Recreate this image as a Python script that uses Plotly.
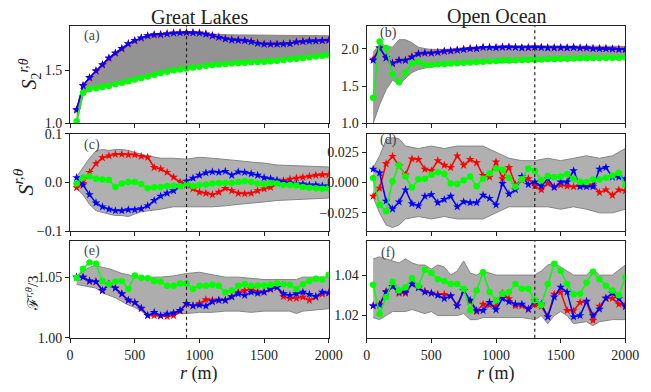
import plotly.graph_objects as go

R = [50, 100, 150, 200, 250, 300, 350, 400, 450, 500, 550, 600, 650, 700, 750, 800, 850, 900, 950, 1000,
     1050, 1100, 1150, 1200, 1250, 1300, 1350, 1400, 1450, 1500, 1550, 1600, 1650, 1700, 1750, 1800, 1850, 1900, 1950, 2000]

# ---- panel (a): S2 Great Lakes
a_red = [1.125, 1.355, 1.43, 1.495, 1.553, 1.615, 1.663, 1.706, 1.752, 1.782, 1.808, 1.828, 1.838, 1.842, 1.85, 1.857, 1.86, 1.862, 1.86, 1.857,
         1.848, 1.832, 1.817, 1.802, 1.792, 1.789, 1.785, 1.775, 1.76, 1.752, 1.752, 1.752, 1.754, 1.757, 1.772, 1.777, 1.782, 1.782, 1.785, 1.788]
a_blue = [1.13, 1.36, 1.435, 1.50, 1.557, 1.62, 1.667, 1.71, 1.755, 1.785, 1.81, 1.83, 1.84, 1.842, 1.848, 1.855, 1.857, 1.86, 1.858, 1.855,
          1.845, 1.83, 1.815, 1.80, 1.79, 1.787, 1.783, 1.773, 1.758, 1.75, 1.75, 1.75, 1.752, 1.755, 1.77, 1.775, 1.78, 1.78, 1.783, 1.786]
a_green = [1.02, 1.29, 1.325, 1.333, 1.345, 1.355, 1.37, 1.385, 1.40, 1.415, 1.43, 1.445, 1.46, 1.476, 1.49, 1.503, 1.51, 1.52, 1.53, 1.537,
           1.545, 1.553, 1.558, 1.563, 1.567, 1.571, 1.575, 1.578, 1.581, 1.584, 1.589, 1.594, 1.60, 1.607, 1.613, 1.62, 1.627, 1.634, 1.64, 1.645]
a_env_x = [50, 100, 150, 200, 300, 400, 500, 600, 700, 800, 900, 1000, 1100, 1200, 1300, 1400, 1500, 1600, 1700, 1800, 1900, 2000]
a_env_hi = [1.13, 1.36, 1.435, 1.50, 1.62, 1.71, 1.785, 1.83, 1.842, 1.855, 1.86, 1.855, 1.845, 1.84, 1.838, 1.836, 1.835, 1.835, 1.833, 1.832, 1.832, 1.83]
a_env_lo = [1.0, 1.27, 1.32, 1.33, 1.35, 1.38, 1.41, 1.44, 1.47, 1.50, 1.52, 1.535, 1.553, 1.563, 1.571, 1.578, 1.584, 1.594, 1.607, 1.62, 1.634, 1.645]

# ---- panel (b): S2 Open Ocean
b_red = [1.86, 2.01, 1.875, 1.81, 1.845, 1.845, 1.89, 1.932, 1.94, 1.942, 1.952, 1.965, 1.972, 1.982, 1.992, 2.0, 2.003, 2.018, 2.018, 2.015,
         2.02, 2.022, 2.018, 2.012, 2.015, 2.022, 2.017, 2.012, 2.012, 2.014, 2.012, 2.017, 2.01, 2.012, 2.003, 2.002, 2.002, 1.997, 1.993, 1.992]
b_blue = [1.843, 2.01, 1.878, 1.80, 1.843, 1.843, 1.887, 1.93, 1.94, 1.94, 1.95, 1.965, 1.97, 1.98, 1.99, 2.0, 2.0, 2.017, 2.017, 2.013,
          2.02, 2.02, 2.017, 2.01, 2.013, 2.02, 2.015, 2.01, 2.01, 2.012, 2.01, 2.015, 2.008, 2.01, 2.0, 2.0, 2.0, 1.995, 1.99, 1.99]
b_green = [1.343, 2.096, 2.01, 1.66, 1.55, 1.68, 1.80, 1.826, 1.785, 1.785, 1.79, 1.795, 1.80, 1.805, 1.81, 1.815, 1.82, 1.825, 1.83, 1.835,
           1.84, 1.842, 1.845, 1.848, 1.85, 1.853, 1.856, 1.86, 1.862, 1.865, 1.866, 1.868, 1.87, 1.872, 1.874, 1.875, 1.876, 1.878, 1.879, 1.88]
b_env_x = [50, 100, 150, 200, 250, 300, 350, 400, 450, 500, 600, 700, 800, 900, 1000, 1200, 1400, 1600, 1800, 2000]
b_env_hi = [1.95, 2.06, 2.03, 2.02, 2.12, 2.12, 2.08, 2.02, 2.0, 1.99, 1.99, 2.0, 2.02, 2.03, 2.035, 2.04, 2.04, 2.04, 2.03, 2.03]
b_env_lo = [1.0, 1.25, 1.45, 1.58, 1.52, 1.6, 1.68, 1.72, 1.74, 1.76, 1.78, 1.79, 1.80, 1.81, 1.82, 1.83, 1.84, 1.85, 1.86, 1.87]

# ---- panel (c): S Great Lakes
c_red = [-0.0106, -0.002, 0.021, 0.039, 0.051, 0.055, 0.058, 0.058, 0.057, 0.057, 0.054, 0.052, 0.031, 0.028, 0.021, 0.011, 0.001, -0.005, -0.013, -0.02,
         -0.022, -0.025, -0.02, -0.012, -0.017, -0.022, -0.023, -0.022, -0.017, -0.013, -0.01, -0.001, 0.004, 0.007, 0.009, 0.011, 0.013, 0.015, 0.016, 0.016]
c_blue = [0.01, -0.005, -0.025, -0.042, -0.05, -0.055, -0.058, -0.058, -0.056, -0.056, -0.054, -0.048, -0.037, -0.028, -0.022, -0.017, -0.007, 0.003, 0.009, 0.015,
          0.02, 0.022, 0.021, 0.023, 0.015, 0.022, 0.021, 0.018, 0.015, 0.01, 0.008, 0.005, 0.001, -0.001, -0.003, -0.003, -0.005, -0.005, -0.007, -0.007]
c_green = [-0.002, 0.01, 0.013, 0.008, 0.006, 0.005, -0.009, -0.002, 0.001, 0.001, -0.003, -0.012, -0.01, -0.009, -0.007, -0.007, -0.007, -0.004, -0.007, -0.005,
           -0.004, -0.002, -0.001, -0.001, -0.001, 0.001, 0.003, 0.001, -0.002, -0.003, -0.001, -0.002, -0.005, -0.005, -0.006, -0.009, -0.011, -0.012, -0.013, -0.012]
c_env_x = [50, 100, 150, 200, 250, 300, 350, 400, 450, 500, 550, 600, 700, 800, 900, 1000, 1100, 1200, 1300, 1400, 1500, 1600, 1700, 1800, 1900, 2000]
c_env_hi = [0.012, 0.03, 0.05, 0.065, 0.068, 0.066, 0.068, 0.068, 0.066, 0.062, 0.058, 0.055, 0.05, 0.05, 0.048, 0.052, 0.05, 0.048, 0.045, 0.042, 0.04, 0.036, 0.035, 0.035, 0.033, 0.032]
c_env_lo = [-0.012, -0.025, -0.045, -0.058, -0.062, -0.065, -0.068, -0.068, -0.07, -0.065, -0.06, -0.058, -0.055, -0.05, -0.05, -0.05, -0.05, -0.048, -0.045, -0.042, -0.04, -0.037, -0.035, -0.035, -0.033, -0.032]

# ---- panel (d): S Open Ocean
d_red = [-0.0113, -0.0047, 0.0155, 0.0216, 0.0137, 0.0063, 0.0195, 0.019, 0.011, 0.0097, 0.018, 0.0142, 0.0124, 0.022, 0.0142, 0.019, 0.0163, 0.0058, 0.0045, 0.017,
         0.0032, 0.0124, -0.0016, 0.0018, 0.0032, -0.003, -0.006, -0.0008, -0.0034, -0.002, -0.003, -0.0034, -0.0026, -0.0016, -0.002, -0.0082, -0.006, -0.0105, -0.006, -0.0068]
d_blue = [0.011, 0.0079, -0.0153, -0.0218, -0.016, -0.006, -0.0174, -0.0192, -0.0113, -0.010, -0.0166, -0.014, -0.0113, -0.020, -0.0158, -0.0166, -0.0166, -0.0105, -0.013, -0.0184,
          -0.0008, -0.0095, -0.006, 0.005, -0.0016, 0.0005, -0.003, 0.0032, -0.0042, 0.0005, 0.0005, 0.0097, -0.0034, -0.0034, -0.0034, 0.011, 0.0124, 0.0045, 0.0045, 0.003]
d_green = [0.0037, -0.0184, -0.0237, 0.001, 0.0142, 0.005, -0.0042, 0.0026, 0.0032, 0.0063, 0.0084, 0.0071, -0.0008, -0.0013, 0.0018, 0.005, -0.003, 0.0032, 0.0076, 0.0116,
           0.0105, 0.0037, -0.0034, 0.0026, 0.0116, 0.0097, 0.0018, 0.0053, 0.0045, 0.005, 0.0071, 0.0032, 0.0005, 0.0005, 0.0024, 0.0024, 0.004, 0.0058, 0.008, -0.002]
d_env_x = [50, 100, 150, 200, 250, 300, 400, 500, 600, 700, 800, 900, 1000, 1100, 1200, 1300, 1400, 1500, 1600, 1700, 1800, 1900, 2000]
d_env_hi = [0.012, 0.022, 0.035, 0.037, 0.036, 0.03, 0.028, 0.03, 0.028, 0.03, 0.03, 0.03, 0.025, 0.02, 0.018, 0.018, 0.02, 0.018, 0.02, 0.022, 0.02, 0.022, 0.028]
d_env_lo = [-0.012, -0.025, -0.035, -0.037, -0.035, -0.03, -0.028, -0.03, -0.028, -0.03, -0.03, -0.03, -0.025, -0.02, -0.02, -0.02, -0.02, -0.022, -0.02, -0.022, -0.025, -0.025, -0.022]

# ---- panel (e): F/3 Great Lakes
e_red = [1.05, 1.05, 1.0465, 1.046, 1.039, 1.044, 1.041, 1.036, 1.031, 1.029, 1.024, 1.0184, 1.0184, 1.018, 1.0176, 1.0184, 1.022, 1.028, 1.0263, 1.0284,
         1.0315, 1.031, 1.031, 1.031, 1.034, 1.0376, 1.039, 1.0405, 1.038, 1.0376, 1.040, 1.0416, 1.034, 1.0326, 1.0326, 1.0335, 1.031, 1.0335, 1.036, 1.037]
e_blue = [1.05, 1.05, 1.0468, 1.0463, 1.039, 1.0442, 1.041, 1.0363, 1.031, 1.029, 1.0245, 1.0184, 1.021, 1.0184, 1.0197, 1.0205, 1.0226, 1.0284, 1.0263, 1.0271,
          1.0263, 1.0297, 1.031, 1.031, 1.0337, 1.0363, 1.035, 1.0376, 1.0368, 1.0376, 1.0403, 1.0416, 1.0363, 1.035, 1.0363, 1.0376, 1.0358, 1.0342, 1.0376, 1.037]
e_green = [1.0495, 1.057, 1.062, 1.061, 1.0468, 1.0442, 1.0463, 1.0468, 1.0403, 1.0513, 1.0495, 1.049, 1.0468, 1.0463, 1.0429, 1.0429, 1.0447, 1.0447, 1.0403, 1.0429,
           1.0429, 1.0437, 1.0429, 1.0376, 1.039, 1.0429, 1.0442, 1.0429, 1.0432, 1.0432, 1.0437, 1.0447, 1.0442, 1.0437, 1.0403, 1.0442, 1.0468, 1.0487, 1.048, 1.052]
e_env_x = [50, 100, 150, 200, 250, 300, 350, 400, 450, 500, 550, 600, 700, 800, 900, 1000, 1100, 1200, 1300, 1400, 1500, 1600, 1700, 1750, 1800, 1900, 2000]
e_env_hi = [1.05, 1.055, 1.058, 1.06, 1.058, 1.057, 1.055, 1.053, 1.052, 1.05, 1.05, 1.05, 1.05, 1.051, 1.053, 1.054, 1.052, 1.05, 1.05, 1.049, 1.048, 1.048, 1.048, 1.048, 1.05, 1.05, 1.05]
e_env_lo = [1.044, 1.043, 1.042, 1.041, 1.037, 1.035, 1.033, 1.03, 1.027, 1.025, 1.022, 1.018, 1.018, 1.02, 1.02, 1.021, 1.021, 1.022, 1.022, 1.021, 1.022, 1.022, 1.022, 1.02, 1.022, 1.023, 1.024]

# ---- panel (f): F/3 Open Ocean
f_red = [1.0248, 1.0256, 1.032, 1.0344, 1.031, 1.031, 1.0356, 1.034, 1.032, 1.031, 1.0305, 1.0305, 1.0297, 1.0248, 1.0324, 1.027, 1.022, 1.0256, 1.0252, 1.0246,
         1.031, 1.0284, 1.0248, 1.0248, 1.023, 1.0256, 1.0246, 1.0194, 1.0306, 1.0316, 1.0225, 1.0224, 1.0265, 1.0268, 1.0176, 1.0246, 1.0284, 1.0285, 1.0256, 1.0254]
f_blue = [1.0248, 1.0252, 1.0316, 1.0344, 1.0316, 1.0316, 1.0356, 1.0337, 1.0316, 1.0311, 1.03, 1.0284, 1.0297, 1.0248, 1.0324, 1.0276, 1.0225, 1.0225, 1.0265, 1.0229,
          1.0284, 1.0268, 1.0257, 1.0257, 1.0232, 1.0273, 1.0257, 1.0194, 1.0292, 1.034, 1.0316, 1.0194, 1.02, 1.0271, 1.02, 1.0232, 1.0287, 1.0311, 1.0284, 1.0244]
f_green = [1.0352, 1.0208, 1.0292, 1.0367, 1.0324, 1.034, 1.0384, 1.0348, 1.0427, 1.0411, 1.0379, 1.0371, 1.0356, 1.0356, 1.0332, 1.0225, 1.0324, 1.0414, 1.0316, 1.0276,
           1.0308, 1.0316, 1.0356, 1.0332, 1.0332, 1.0276, 1.0252, 1.0356, 1.0456, 1.0422, 1.0356, 1.0305, 1.0308, 1.0363, 1.0416, 1.0379, 1.0348, 1.0324, 1.030, 1.039]
f_env_x = [50, 100, 150, 200, 250, 300, 350, 400, 450, 500, 550, 600, 650, 700, 750, 800, 850, 900, 1000, 1100,
           1200, 1300, 1350, 1400, 1450, 1500, 1550, 1600, 1700, 1750, 1800, 1900, 2000]
f_env_hi = [1.048, 1.049, 1.048, 1.047, 1.046, 1.048, 1.046, 1.045, 1.045, 1.043, 1.045, 1.044, 1.040, 1.042, 1.047, 1.041, 1.040, 1.042, 1.040, 1.040,
            1.040, 1.040, 1.042, 1.045, 1.046, 1.044, 1.042, 1.040, 1.040, 1.043, 1.040, 1.040, 1.045]
f_env_lo = [1.019, 1.018, 1.020, 1.022, 1.022, 1.022, 1.023, 1.022, 1.021, 1.022, 1.020, 1.020, 1.020, 1.020, 1.021, 1.018, 1.018, 1.019, 1.019, 1.019,
            1.019, 1.018, 1.020, 1.016, 1.020, 1.022, 1.020, 1.016, 1.017, 1.015, 1.017, 1.018, 1.018]

X_TICKS = [0, 500, 1000, 1500, 2000]
PANEL_LABELS = ["(a)", "(b)", "(c)", "(d)", "(e)", "(f)"]
COLUMN_TITLES = ["Great Lakes", "Open Ocean"]
DIVIDERS = [900, 1300]

W, H = 651, 392
def px(x): return x / W
def py(y): return 1 - y / H

panels = [
    dict(red=a_red, blue=a_blue, green=a_green, ex=a_env_x, hi=a_env_hi, lo=a_env_lo, yr=[1.0, 1.92], tv=[1.0, 1.5], tf=".1f", fill="#939393"),
    dict(red=b_red, blue=b_blue, green=b_green, ex=b_env_x, hi=b_env_hi, lo=b_env_lo, yr=[1.0, 2.3], tv=[1.0, 1.5, 2.0], tf=".1f", fill="#9c9c9c"),
    dict(red=c_red, blue=c_blue, green=c_green, ex=c_env_x, hi=c_env_hi, lo=c_env_lo, yr=[-0.1, 0.1], tv=[-0.1, 0.0, 0.1], tf=".1f", fill="#b0b0b0"),
    dict(red=d_red, blue=d_blue, green=d_green, ex=d_env_x, hi=d_env_hi, lo=d_env_lo, yr=[-0.04, 0.04], tv=[-0.025, 0.0, 0.025], tf=".3f", fill="#b0b0b0"),
    dict(red=e_red, blue=e_blue, green=e_green, ex=e_env_x, hi=e_env_hi, lo=e_env_lo, yr=[1.0, 1.08], tv=[1.0, 1.05], tf=".2f", fill="#adadad"),
    dict(red=f_red, blue=f_blue, green=f_green, ex=f_env_x, hi=f_env_hi, lo=f_env_lo, yr=[1.009, 1.057], tv=[1.02, 1.04], tf=".2f", fill="#adadad"),
]

x_dom = [[px(68), px(334)], [px(373), px(639)]]
y_dom = [[py(121), py(20)], [py(233), py(132)], [py(344), py(243)]]

FONT = "Liberation Serif"
fig = go.Figure()
layout = dict(width=W, height=H, margin=dict(l=0, r=0, t=0, b=0),
              plot_bgcolor="white", paper_bgcolor="white", showlegend=False,
              font=dict(family=FONT, size=14, color="#222"))
shapes = []
annotations = []

def note(text, x, y, size, color="#222", angle=0):
    annotations.append(dict(text=text, x=px(x), y=py(y), xref="paper", yref="paper", showarrow=False,
                            xanchor="center", yanchor="middle", textangle=angle,
                            font=dict(family=FONT, size=size, color=color)))

for i, p in enumerate(panels):
    row, col = i // 2, i % 2
    n = i + 1
    xa = "x" if n == 1 else f"x{n}"
    ya = "y" if n == 1 else f"y{n}"
    # gray ensemble band
    fig.add_trace(go.Scatter(x=p["ex"] + p["ex"][::-1], y=p["hi"] + p["lo"][::-1], xaxis=xa, yaxis=ya,
                             mode="lines", fill="toself", fillcolor=p["fill"],
                             line=dict(color="#858585", width=1), hoverinfo="skip"))
    fig.add_trace(go.Scatter(x=R, y=p["red"], xaxis=xa, yaxis=ya, mode="lines+markers",
                             line=dict(color="red", width=1.5), marker=dict(symbol="star", size=6.5, color="red")))
    fig.add_trace(go.Scatter(x=R, y=p["blue"], xaxis=xa, yaxis=ya, mode="lines+markers",
                             line=dict(color="blue", width=1.5), marker=dict(symbol="star", size=6.5, color="blue")))
    fig.add_trace(go.Scatter(x=R, y=p["green"], xaxis=xa, yaxis=ya, mode="lines+markers",
                             line=dict(color="#00ff00", width=1.5), marker=dict(symbol="circle", size=6.5, color="#00ff00")))
    axis_common = dict(showgrid=False, zeroline=False, showline=True, mirror=True, linecolor="#222", linewidth=1.2,
                       ticks="outside", ticklen=4, tickcolor="#222", tickfont=dict(family=FONT, size=14, color="#222"))
    layout["xaxis" if n == 1 else f"xaxis{n}"] = dict(axis_common, domain=x_dom[col], anchor=ya, range=[0, 2000],
                                                       tickvals=X_TICKS, showticklabels=(row == 2))
    layout["yaxis" if n == 1 else f"yaxis{n}"] = dict(axis_common, domain=y_dom[row], anchor=xa, range=p["yr"],
                                                       tickvals=p["tv"], tickformat=p["tf"])
    shapes.append(dict(type="line", xref=xa, yref=f"{ya} domain", x0=DIVIDERS[col], x1=DIVIDERS[col], y0=0, y1=1,
                       line=dict(color="#222", width=1.2, dash="dot")))
    lx = 90 if col == 0 else 395
    ly = [30, 143, 254][row] if col == 0 else [27, 138, 256][row]
    note(PANEL_LABELS[i], lx, ly, 14, "#444")

for col, t in enumerate(COLUMN_TITLES):
    cx = (68 + 334) / 2 if col == 0 else (373 + 639) / 2
    note(t, cx, 10, 20)
    note("<i>r</i> (m)", cx, 381, 18)

note("<i>S</i><sub>2</sub><sup><i>r,θ</i></sup>", 27, 70, 20, angle=-90)
note("<i>S</i><sup><i>r,θ</i></sup>", 20, 182, 22, angle=-90)
note("ℱ<sup><i>r,θ</i></sup>/3", 28, 298, 15, angle=-90)

layout["shapes"] = shapes
layout["annotations"] = annotations
fig.update_layout(**layout)
fig.write_html("out.html")
